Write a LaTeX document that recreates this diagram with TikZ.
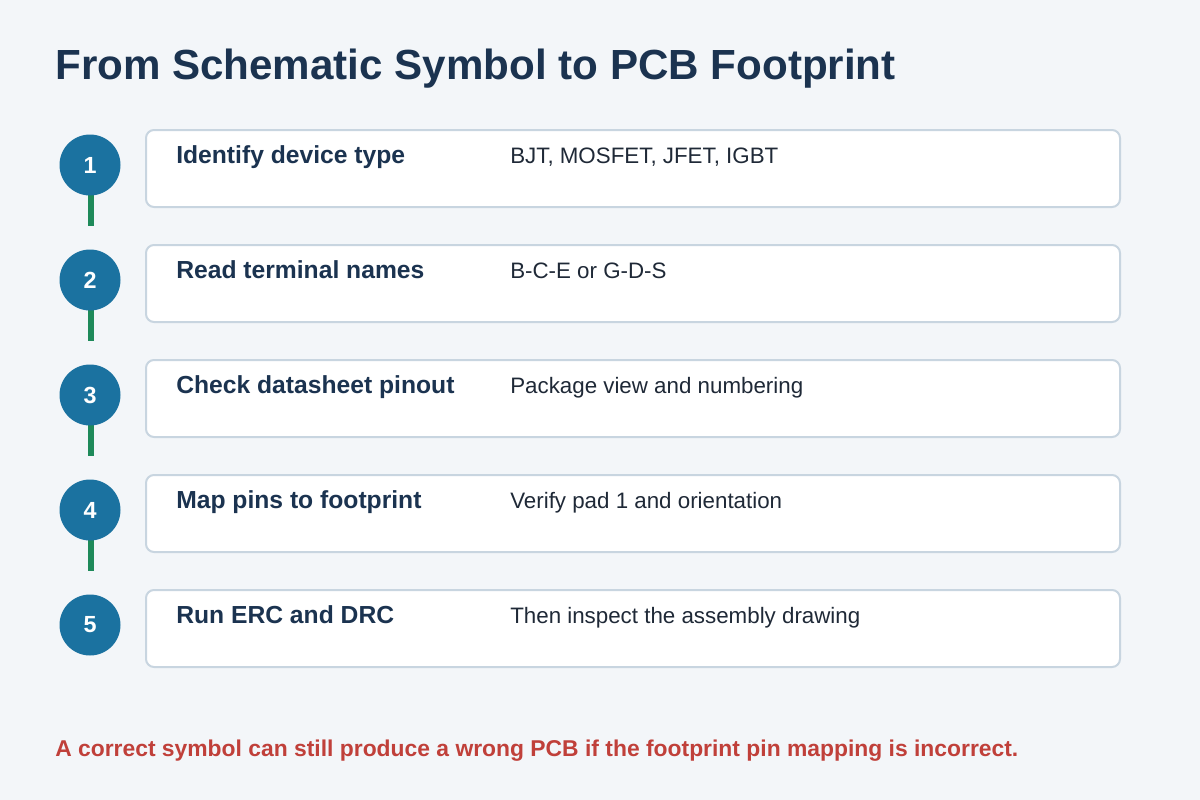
\documentclass[tikz,border=0pt]{standalone}
\usepackage{fontspec}
\setmainfont{Liberation Sans}
\definecolor{bg}{HTML}{F3F6F9}
\definecolor{navy}{HTML}{1B3350}
\definecolor{circ}{HTML}{1B72A0}
\definecolor{grn}{HTML}{1E8A5A}
\definecolor{bord}{HTML}{C8D5E0}
\definecolor{desc}{HTML}{1F2937}
\definecolor{warn}{HTML}{C0403A}
\tikzset{
  stepnum/.style={circle, fill=circ, minimum size=45.75pt, inner sep=0, text=white, font=\bfseries\fontsize{17.5}{18}\selectfont},
  stepbox/.style={draw=bord, line width=1.5pt, rounded corners=6pt, fill=white},
  steptitle/.style={anchor=base west, text=navy, inner sep=0, font=\bfseries\fontsize{18.5}{20}\selectfont},
  stepdesc/.style={anchor=base west, text=desc, inner sep=0, font=\fontsize{16.75}{18}\selectfont},
  link/.style={draw=grn, line width=4.5pt}
}
\begin{document}
\begin{tikzpicture}[x=0.75pt,y=-0.75pt]
\fill[bg] (0,0) rectangle (1200,800);
\useasboundingbox (0,0) rectangle (1200,800);
\node[anchor=base west, inner sep=0, text=navy, font=\bfseries\fontsize{31.6}{34}\selectfont] (title) at (55,79) {From Schematic Symbol to PCB Footprint};
\foreach \i/\t/\d in {1/Identify device type/{BJT, MOSFET, JFET, IGBT},
                      2/Read terminal names/B-C-E or G-D-S,
                      3/Check datasheet pinout/Package view and numbering,
                      4/Map pins to footprint/Verify pad 1 and orientation,
                      5/Run ERC and DRC/Then inspect the assembly drawing}{
  \pgfmathsetmacro{\yy}{165+115*(\i-1)}
  \draw[stepbox] (146,\yy-35) rectangle (1120,\yy+42);
  \node[steptitle] (t\i) at (176,\yy-2) {\t};
  \node[stepdesc] (d\i) at (510,\yy-2) {\d};
  \coordinate (e\i) at (91,\yy+61);
}
\foreach \i in {1,...,4}{
  \path[link] (91,165+115*\i-115) -- (e\i);
}
\foreach \i in {1,...,5}{
  \node[stepnum] (n\i) at (90,165+115*\i-115) {\i};
}
\node[anchor=base west, inner sep=0, text=warn, font=\bfseries\fontsize{17.15}{19}\selectfont] (note) at (55,756) {A correct symbol can still produce a wrong PCB if the footprint pin mapping is incorrect.};
\end{tikzpicture}
\end{document}
